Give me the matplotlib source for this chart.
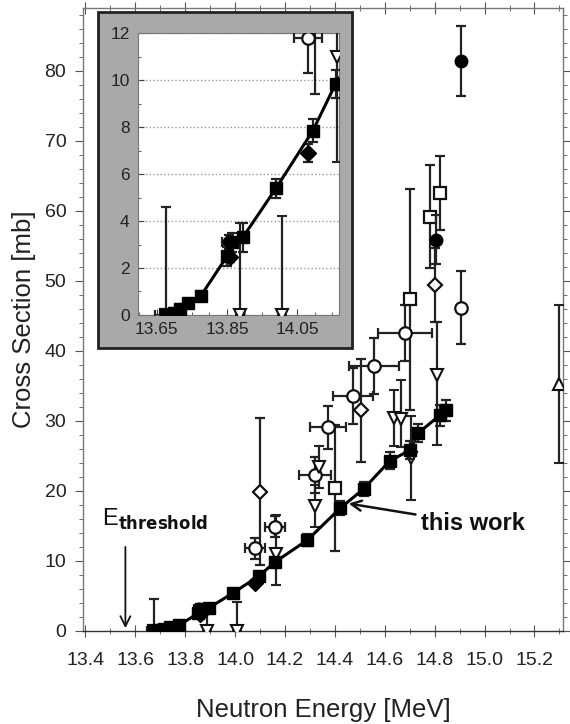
import matplotlib
matplotlib.use("Agg")
import matplotlib.pyplot as plt
import matplotlib.patches as mpatches
from matplotlib.ticker import MultipleLocator, FixedLocator
import numpy as np

plt.rcParams['font.family'] = ['Liberation Sans', 'DejaVu Sans']

# ---------------- data ----------------
# this work (filled squares + curve)
tw_E = [13.675, 13.70, 13.715, 13.74, 13.775, 13.85, 13.865, 13.895, 13.99, 14.095,
        14.16, 14.29, 14.42, 14.515, 14.62, 14.70, 14.735, 14.82, 14.845]
tw_s = [0.0, 0.1, 0.25, 0.5, 0.8, 2.5, 3.1, 3.3, 5.4, 7.85,
        9.85, 13.0, 17.5, 20.3, 24.3, 25.8, 28.3, 30.8, 31.5]
tw_err = [0.2, 0.2, 0.2, 0.2, 0.2, 0.4, 0.4, 0.6, 0.4, 0.5,
          0.6, 0.8, 1.0, 1.0, 1.2, 1.3, 1.3, 1.5, 1.5]

# open circles
oc_E = [14.08, 14.16, 14.32, 14.372, 14.472, 14.558, 14.681, 14.905]
oc_s = [11.8, 14.9, 22.3, 29.1, 33.5, 37.9, 42.6, 46.2]
oc_xerr = [0.04, 0.04, 0.066, 0.073, 0.08, 0.10, 0.11, 0.0]
oc_yerr = [1.5, 1.5, 2.6, 3.1, 4.0, 4.0, 4.0, 5.2]

# filled circles
fc_E = [13.855, 14.805, 14.905]
fc_s = [3.1, 55.9, 81.4]
fc_xerr = [0.02, 0.0, 0.0]
fc_yerr = [0.3, 3.5, 5.0]

# filled diamonds
fd_E = [13.86, 14.08]
fd_s = [2.45, 6.9]
fd_yerr = [0.2, 0.4]

# open diamonds
od_E = [14.10, 14.503, 14.802]
od_s = [19.9, 31.5, 49.4]
od_yerr = [10.5, 7.3, 5.3]

# open squares
os_E = [13.675, 14.402, 14.702, 14.782, 14.822]
os_s = [0.0, 20.4, 47.4, 59.2, 62.6]
os_xerr = [0.03, 0.0, 0.0, 0.0, 0.0]
os_ylo = [0.0, 9.0, 15.8, 7.4, 5.3]
os_yhi = [4.6, 9.0, 15.8, 7.4, 5.3]

# open triangles (down)
td_E = [13.888, 14.006, 14.165, 14.319, 14.335, 14.638, 14.665, 14.705, 14.81]
td_s = [0.0, 0.0, 11.0, 17.8, 23.4, 30.4, 30.3, 24.7, 36.6]
td_ylo = [0.0, 0.0, 4.5, 3.0, 3.0, 4.0, 4.0, 6.0, 10.0]
td_yhi = [3.9, 4.2, 5.5, 3.0, 3.0, 4.0, 5.5, 6.0, 7.5]

# open triangle (up)
tu_E = [15.30]
tu_s = [35.3]
tu_yerr = [11.3]

E_threshold = 13.56

# ---------------- figure ----------------
fig = plt.figure(figsize=(5.70, 7.24), dpi=100)
ax = fig.add_axes([0.1456, 0.1285, 0.988 - 0.1456, 0.989 - 0.1285])
ins = fig.add_axes([0.242, 0.565, 0.595 - 0.242, 0.954 - 0.565], zorder=3)

gray_box = mpatches.Rectangle((0.172, 0.519), 0.618 - 0.172, 0.983 - 0.519,
                              transform=fig.transFigure, facecolor='#a9a9a9',
                              edgecolor='#222222', linewidth=2.0, zorder=2)
fig.patches.append(gray_box)


def draw_all(a, ms_scale=1.0, lw=1.6, cap=3.5):
    ekw = dict(ecolor='#222222', elinewidth=lw, capsize=cap, capthick=lw, linestyle='none')
    a.errorbar(oc_E, oc_s, xerr=oc_xerr, yerr=oc_yerr, marker='o', ms=9 * ms_scale,
               mfc='white', mec='#111111', mew=1.6, zorder=4, **ekw)
    a.errorbar(od_E, od_s, yerr=od_yerr, marker='D', ms=7.5 * ms_scale,
               mfc='white', mec='#111111', mew=1.6, zorder=4, **ekw)
    a.errorbar(os_E, os_s, xerr=os_xerr, yerr=[os_ylo, os_yhi], marker='s', ms=8 * ms_scale,
               mfc='white', mec='#111111', mew=1.6, zorder=4, **ekw)
    a.errorbar(td_E, td_s, yerr=[td_ylo, td_yhi], marker='v', ms=9 * ms_scale,
               mfc='white', mec='#111111', mew=1.5, zorder=4, **ekw)
    a.errorbar(tu_E, tu_s, yerr=tu_yerr, marker='^', ms=9 * ms_scale,
               mfc='white', mec='#111111', mew=1.5, zorder=4, **ekw)
    a.errorbar(fc_E, fc_s, xerr=fc_xerr, yerr=fc_yerr, marker='o', ms=9 * ms_scale,
               mfc='black', mec='black', zorder=5, **ekw)
    a.errorbar(fd_E, fd_s, yerr=fd_yerr, marker='D', ms=8 * ms_scale,
               mfc='black', mec='black', zorder=5, **ekw)
    a.plot(tw_E, tw_s, color='black', lw=2.2, zorder=6)
    a.errorbar(tw_E, tw_s, yerr=tw_err, marker='s', ms=8.5 * ms_scale,
               mfc='black', mec='black', zorder=7, **ekw)


# ---------------- main axes ----------------
draw_all(ax)
ax.set_xlim(13.39, 15.315)
ax.set_ylim(0, 89)
ax.xaxis.set_major_locator(FixedLocator([13.4, 13.6, 13.8, 14.0, 14.2, 14.4, 14.6, 14.8, 15.0, 15.2]))
ax.xaxis.set_minor_locator(MultipleLocator(0.1))
ax.yaxis.set_major_locator(MultipleLocator(10))
ax.yaxis.set_minor_locator(MultipleLocator(2))
ax.set_xticklabels(['13.4', '13.6', '13.8', '14.0', '14.2', '14.4', '14.6', '14.8', '15.0', '15.2'])
ax.tick_params(axis='both', which='both', colors='#555555', labelcolor='#222222',
               labelsize=14, top=True, right=True)
ax.tick_params(axis='x', which='major', direction='inout', length=8, pad=11)
ax.tick_params(axis='x', which='minor', direction='inout', length=5)
ax.tick_params(axis='y', which='major', direction='out', length=6, pad=6)
ax.tick_params(axis='y', which='minor', direction='out', length=3)
for s in ax.spines.values():
    s.set_color('#777777')
    s.set_linewidth(1.0)
ax.spines['bottom'].set_color('#333333')
ax.set_xlabel('Neutron Energy [MeV]', fontsize=18.5, color='#222222', labelpad=21)
ax.set_ylabel('Cross Section [mb]', fontsize=18.5, color='#222222', labelpad=6)

# threshold arrow
ax.annotate('', xy=(E_threshold, 0.0), xytext=(E_threshold, 12.4),
            arrowprops=dict(arrowstyle='->', color='#111111', lw=1.3,
                            mutation_scale=18))
ax.text(13.465, 15.9, r'E$_{\mathbf{threshold}}$', fontsize=17, color='#111111',
        ha='left', va='center')

# this work label
ax.annotate('this work', xy=(14.455, 18.2), xytext=(14.745, 15.3),
            fontsize=17, fontweight='bold', color='#111111', va='center', ha='left',
            arrowprops=dict(arrowstyle='->', color='#111111', lw=1.8,
                            mutation_scale=18, shrinkA=2, shrinkB=0))

# ---------------- inset ----------------
draw_all(ins, ms_scale=1.0)
ins.set_xlim(13.596, 14.17)
ins.set_ylim(0, 12)
ins.xaxis.set_major_locator(FixedLocator([13.65, 13.85, 14.05]))
ins.xaxis.set_minor_locator(MultipleLocator(0.05))
ins.yaxis.set_major_locator(MultipleLocator(2))
ins.yaxis.set_minor_locator(MultipleLocator(1))
ins.set_xticklabels(['13.65', '13.85', '14.05'])
ins.tick_params(axis='both', which='both', labelsize=12.5, colors='#444444', labelcolor='#222222',
                direction='in')
ins.tick_params(axis='both', which='major', length=4)
ins.tick_params(axis='both', which='minor', length=2)
ins.tick_params(axis='x', pad=5)
ins.tick_params(axis='y', pad=6)
ins.set_facecolor('white')
ins.grid(axis='y', which='major', linestyle=':', color='#999999', lw=1.0)
for s in ins.spines.values():
    s.set_color('#777777')
    s.set_linewidth(0.8)

fig.savefig('out.png', dpi=100)
